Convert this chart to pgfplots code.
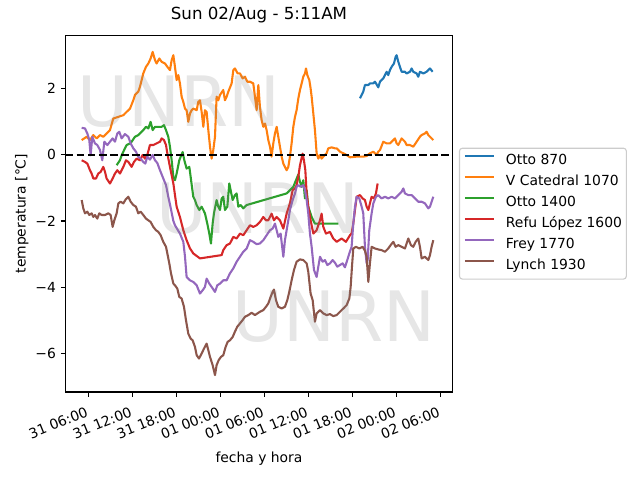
\documentclass[border=0pt]{standalone}
\usepackage{fontspec}
\setmainfont{DejaVu Sans}
\usepackage{pgfplots}
\pgfplotsset{compat=1.18}
\definecolor{c0}{HTML}{1F77B4}
\definecolor{c1}{HTML}{FF7F0E}
\definecolor{c2}{HTML}{2CA02C}
\definecolor{c3}{HTML}{D62728}
\definecolor{c4}{HTML}{9467BD}
\definecolor{c5}{HTML}{8C564B}
\begin{document}
\begin{tikzpicture}
\useasboundingbox (-47.30pt,-63.36pt) rectangle (413.50pt,282.24pt);
\begin{axis}[
  at={(0,0)}, anchor=south west,
  scale only axis, width=278.35pt, height=256.82pt,
  xmin=2.92, xmax=55.64, ymin=-7.16, ymax=3.60,
  axis line style={line width=0.8pt},
  tick align=outside, major tick length=3.5pt,
  every tick/.style={black, line width=0.8pt},
  tick pos=left,
  xtick={6,12,18,24,30,36,42,48,54},
  xticklabels={31 06:00,31 12:00,31 18:00,01 00:00,01 06:00,01 12:00,01 18:00,02 00:00,02 06:00},
  ytick={-6,-4,-2,0,2},
  yticklabels={−6,−4,−2,0,2},
  tick label style={font=\fontsize{10}{12}\selectfont},
  xticklabel style={inner sep=0pt, xshift=-2.2pt, yshift=-6.55pt, anchor=north east, rotate=22},
  yticklabel style={inner sep=0pt, xshift=-3.3pt, anchor=east},
  title={Sun 02/Aug - 5:11AM},
  title style={font=\fontsize{12}{14}\selectfont, at={(axis description cs:0.5,1.0213)}, anchor=base, inner sep=0pt},
  xlabel={fecha y hora},
  xlabel style={font=\fontsize{10}{12}\selectfont, at={(axis description cs:0.5,-0.1963)}, anchor=base, inner sep=0pt},
  ylabel={temperatura [°C]},
  ylabel style={font=\fontsize{10}{12}\selectfont, at={(axis description cs:-0.1035,0.5)}, anchor=base, inner sep=0pt},
  every axis plot/.append style={line width=1.5pt, line join=round},
  legend image code/.code={\path[draw=none,fill=none] (0pt,0pt) rectangle (20.9pt,5pt); \draw[#1] (0pt,3.6pt) -- (20.9pt,3.6pt);},
  legend cell align=left,
  legend style={at={(1,0.5)}, anchor=west, xshift=4.82pt, draw=black!20, line width=0.8pt, rounded corners=2pt, fill=white,
    inner xsep=3.1pt, inner ysep=4.1pt, row sep=5.2pt, font=\fontsize{10}{12}\selectfont,
    nodes={inner sep=0pt, text height=7.5pt, text depth=2.5pt},
    /tikz/every odd column/.append style={column sep=7.9pt}},
]
\addplot[c0] coordinates {(43.05,1.70)(43.28,1.80)(43.50,1.90)(43.73,2.10)(44.19,2.10)(44.41,2.15)(44.87,2.15)(45.10,2.20)(45.55,2.03)(45.78,2.20)(46.23,2.30)(46.46,2.40)(46.69,2.50)(46.91,2.40)(47.14,2.55)(47.37,2.65)(47.69,2.75)(47.91,2.95)(48.05,3.00)(48.28,2.80)(48.50,2.65)(48.73,2.50)(49.19,2.50)(49.41,2.45)(49.87,2.50)(50.10,2.60)(50.32,2.50)(50.78,2.45)(51.00,2.35)(51.23,2.50)(51.69,2.45)(52.14,2.50)(52.60,2.60)(52.96,2.50)};
\addlegendentry{Otto 870}
\addplot[c1] coordinates {(5.10,0.44)(5.78,0.54)(6.23,0.44)(6.69,0.59)(7.14,0.49)(7.60,0.59)(8.05,0.54)(8.50,0.64)(8.96,0.74)(9.41,1.09)(10.10,1.14)(10.78,1.19)(11.23,1.29)(11.69,1.39)(12.14,1.64)(12.37,1.80)(12.82,1.90)(13.05,2.05)(13.50,2.45)(13.87,2.65)(14.19,2.75)(14.50,2.90)(14.78,3.10)(15.10,2.85)(15.32,2.75)(15.69,2.90)(16.01,2.80)(16.46,2.75)(16.78,2.65)(17.14,2.55)(17.37,2.85)(17.60,3.00)(17.82,2.65)(18.05,2.25)(18.28,2.40)(18.50,2.15)(18.73,1.75)(18.96,1.59)(19.19,1.39)(19.41,1.34)(19.64,0.99)(19.87,1.24)(20.10,1.34)(20.32,1.39)(20.78,1.34)(21.00,1.59)(21.23,1.64)(21.46,1.29)(21.69,0.84)(21.91,1.34)(22.14,1.29)(22.37,0.74)(22.60,0.24)(22.82,-0.12)(23.05,0.14)(23.28,0.54)(23.50,1.75)(23.73,1.64)(23.96,1.80)(24.41,1.95)(24.64,1.64)(24.87,1.75)(25.10,1.90)(25.55,2.15)(25.78,2.55)(26.00,2.60)(26.37,2.45)(26.69,2.45)(27.05,2.30)(27.37,2.35)(27.69,2.20)(28.05,2.20)(28.50,2.15)(28.73,1.75)(28.96,1.34)(29.19,2.10)(29.41,1.44)(29.64,1.04)(29.87,0.84)(30.10,0.94)(30.32,0.74)(30.55,0.44)(30.78,0.24)(31.00,-0.06)(31.23,0.34)(31.46,0.64)(31.69,0.84)(31.91,0.54)(32.14,0.24)(32.37,-0.06)(32.60,-0.27)(33.05,-0.47)(33.28,-0.37)(33.50,-0.06)(33.73,0.34)(33.96,0.84)(34.19,1.14)(34.41,1.34)(34.64,1.69)(34.87,1.95)(35.10,2.15)(35.32,2.35)(35.55,2.45)(35.69,2.60)(35.87,2.40)(36.14,2.25)(36.32,2.00)(36.46,1.75)(36.69,1.24)(36.91,0.74)(37.14,0.04)(37.37,-0.12)(37.60,-0.01)(37.82,-0.12)(38.05,-0.06)(38.50,0.04)(38.73,0.19)(39.19,0.22)(39.64,0.19)(39.87,0.19)(40.32,0.09)(40.78,0.04)(41.23,-0.01)(41.69,-0.08)(42.60,-0.06)(43.50,-0.06)(43.96,-0.04)(44.41,0.04)(44.87,0.09)(45.32,-0.01)(45.55,0.09)(45.78,0.14)(46.23,0.39)(46.69,0.34)(47.14,0.34)(47.60,0.44)(47.82,0.49)(48.05,0.34)(48.28,0.29)(48.73,0.49)(49.19,0.39)(49.41,0.29)(49.87,0.29)(50.32,0.24)(50.78,0.39)(51.23,0.54)(51.46,0.59)(51.91,0.64)(52.14,0.69)(52.37,0.59)(52.60,0.54)(53.05,0.44)};
\addlegendentry{V Catedral 1070}
\addplot[c2] coordinates {(9.87,-0.32)(10.32,-0.17)(10.55,-0.02)(11.00,0.19)(11.23,0.29)(11.69,0.34)(11.91,0.39)(12.37,0.54)(12.82,0.59)(13.05,0.64)(13.50,0.74)(13.87,0.84)(14.19,0.79)(14.50,0.99)(14.78,0.74)(15.10,0.84)(15.55,0.84)(16.01,0.84)(16.32,0.89)(16.60,0.74)(16.91,0.54)(17.14,0.24)(17.37,-0.17)(17.60,-0.67)(17.82,-0.77)(18.05,-0.57)(18.41,-0.17)(18.87,0.08)(19.10,-0.17)(19.41,-0.42)(19.78,-0.37)(19.96,-0.67)(20.32,-1.27)(20.55,-1.37)(20.78,-1.52)(21.14,-1.67)(21.46,-1.57)(21.91,-1.77)(22.23,-2.08)(22.50,-2.38)(22.73,-2.68)(22.96,-2.08)(23.14,-1.77)(23.50,-1.37)(23.73,-1.57)(23.96,-1.67)(24.19,-1.32)(24.41,-1.27)(24.64,-1.67)(24.96,-1.57)(25.23,-0.87)(25.41,-1.07)(25.69,-1.37)(26.00,-1.22)(26.23,-1.17)(26.46,-1.57)(26.78,-1.52)(27.14,-1.62)(27.60,-1.52)(33.05,-1.17)(33.96,-0.97)(34.64,-0.60)(34.87,-0.82)(35.10,-0.97)(35.32,-0.77)(35.55,-1.32)(35.78,-1.07)(36.00,-1.57)(36.46,-1.88)(36.91,-2.08)(40.10,-2.08)};
\addlegendentry{Otto 1400}
\addplot[c3] coordinates {(5.10,-0.17)(5.55,-0.22)(5.87,-0.27)(6.23,-0.47)(6.46,-0.57)(6.69,-0.72)(7.05,-0.72)(7.37,-0.57)(7.69,-0.52)(8.05,-0.37)(8.28,-0.52)(8.50,-0.72)(8.96,-0.87)(9.32,-0.72)(9.64,-0.57)(9.96,-0.47)(10.32,-0.57)(10.78,-0.37)(11.14,-0.17)(11.46,-0.22)(11.91,-0.37)(12.23,-0.22)(12.60,-0.12)(13.05,-0.17)(13.41,-0.01)(13.73,-0.12)(14.05,-0.01)(14.41,0.29)(14.87,0.29)(15.32,0.34)(15.78,0.39)(16.01,0.49)(16.32,0.44)(16.60,0.29)(16.78,0.04)(17.14,-0.37)(17.60,-0.87)(18.05,-1.57)(18.50,-1.88)(18.96,-2.28)(19.41,-2.58)(19.87,-2.83)(20.32,-2.98)(21.23,-3.13)(24.19,-3.03)(24.41,-2.88)(24.87,-2.73)(25.32,-2.68)(25.78,-2.48)(26.23,-2.53)(26.69,-2.38)(27.14,-2.43)(27.60,-2.28)(28.05,-2.13)(28.50,-2.18)(28.96,-2.13)(29.41,-2.03)(29.87,-1.88)(30.23,-1.98)(30.55,-1.98)(31.00,-1.78)(31.32,-1.98)(31.69,-1.88)(32.14,-1.98)(32.60,-2.23)(33.05,-1.78)(33.50,-1.47)(33.87,-1.07)(34.19,-1.02)(34.41,-0.92)(34.64,-0.67)(34.87,-0.32)(35.23,0.03)(35.41,-0.17)(35.60,-0.47)(35.78,-1.17)(36.00,-1.57)(36.32,-1.98)(36.69,-2.38)(37.14,-2.28)(37.60,-1.98)(37.82,-1.78)(38.05,-2.18)(38.41,-2.38)(38.96,-2.33)(39.41,-2.53)(39.87,-2.63)(40.55,-2.53)(41.14,-2.63)(41.69,-2.43)(41.91,-2.38)(42.14,-2.08)(42.37,-1.67)(42.60,-1.27)(43.05,-1.22)(43.41,-1.32)(43.73,-1.37)(43.96,-1.57)(44.19,-1.67)(44.41,-1.47)(44.64,-1.27)(44.96,-1.32)(45.23,-1.17)(45.46,-0.87)};
\addlegendentry{Refu López 1600}
\addplot[c4] coordinates {(5.10,0.81)(5.55,0.79)(5.87,0.64)(6.14,0.44)(6.32,-0.02)(6.55,0.54)(6.91,0.34)(7.23,0.29)(7.60,0.14)(7.91,-0.17)(8.19,0.39)(8.60,0.29)(8.96,0.39)(9.32,0.49)(9.64,0.39)(9.96,0.64)(10.23,0.69)(10.55,0.49)(11.00,0.62)(11.46,0.54)(11.78,0.34)(12.14,0.19)(12.50,0.09)(12.82,-0.06)(13.14,-0.12)(13.50,-0.22)(13.78,-0.27)(14.05,-0.06)(14.41,-0.15)(14.78,-0.01)(15.10,-0.17)(15.41,-0.25)(15.78,-0.47)(16.23,-0.72)(16.60,-0.92)(16.91,-1.27)(17.14,-1.50)(17.60,-2.00)(17.82,-2.13)(18.50,-2.38)(18.96,-2.63)(19.19,-3.08)(19.41,-3.69)(19.87,-3.79)(20.32,-3.84)(20.78,-3.94)(21.23,-4.19)(21.60,-4.09)(21.91,-3.99)(22.14,-3.74)(22.50,-3.89)(22.82,-3.99)(23.28,-4.14)(23.60,-3.94)(23.96,-3.89)(24.41,-3.79)(24.87,-3.79)(25.32,-3.58)(25.78,-3.43)(26.23,-3.23)(26.69,-3.08)(27.14,-2.93)(27.60,-2.83)(28.05,-2.58)(28.50,-2.63)(28.96,-2.70)(29.41,-2.68)(29.87,-2.58)(30.32,-2.43)(30.78,-2.28)(31.14,-2.23)(31.46,-2.08)(31.69,-2.28)(31.91,-2.48)(32.23,-2.38)(32.60,-3.08)(32.82,-2.58)(33.05,-2.28)(33.28,-1.98)(33.50,-1.67)(33.87,-1.37)(34.19,-1.17)(34.41,-0.97)(34.64,-0.92)(34.96,-0.97)(35.32,-0.92)(35.55,-1.07)(35.78,-1.37)(36.00,-1.77)(36.23,-2.38)(36.46,-2.78)(36.78,-3.48)(37.14,-3.69)(37.37,-3.38)(37.60,-3.08)(37.96,-3.23)(38.28,-3.18)(38.60,-3.33)(38.96,-3.28)(39.32,-3.18)(39.64,-3.26)(39.96,-3.38)(40.32,-3.33)(40.69,-3.28)(41.00,-3.40)(41.32,-3.18)(41.60,-2.98)(41.91,-2.78)(42.14,-2.08)(42.37,-1.57)(42.60,-1.27)(42.96,-1.32)(43.28,-1.57)(43.50,-1.77)(43.73,-2.78)(43.96,-3.28)(44.10,-3.18)(44.32,-2.28)(44.64,-1.77)(44.87,-1.47)(45.23,-1.27)(45.55,-1.22)(46.00,-1.32)(46.46,-1.27)(46.91,-1.32)(47.37,-1.27)(47.82,-1.32)(48.28,-1.22)(48.73,-1.12)(48.96,-1.02)(49.19,-1.17)(49.64,-1.22)(50.10,-1.22)(50.55,-1.32)(51.00,-1.42)(51.46,-1.42)(51.91,-1.47)(52.37,-1.62)(52.60,-1.57)(52.82,-1.42)(53.05,-1.27)};
\addlegendentry{Frey 1770}
\addplot[c5] coordinates {(5.10,-1.37)(5.32,-1.62)(5.55,-1.77)(5.87,-1.72)(6.14,-1.82)(6.46,-1.77)(6.69,-1.88)(6.91,-1.82)(7.23,-1.93)(7.50,-1.77)(7.82,-1.82)(8.28,-1.82)(8.73,-1.77)(9.05,-1.82)(9.32,-2.18)(9.55,-1.98)(9.87,-1.77)(10.10,-1.47)(10.41,-1.42)(10.78,-1.47)(11.10,-1.35)(11.46,-1.27)(11.78,-1.42)(12.14,-1.52)(12.50,-1.57)(12.82,-1.77)(13.14,-1.72)(13.50,-1.82)(13.87,-1.93)(14.19,-1.98)(14.50,-2.03)(14.87,-2.18)(15.23,-2.28)(15.55,-2.33)(15.87,-2.43)(16.23,-2.63)(16.60,-2.78)(16.78,-2.98)(17.05,-3.28)(17.28,-3.58)(17.60,-3.89)(17.82,-3.94)(18.14,-4.04)(18.41,-4.29)(18.73,-4.34)(19.05,-4.59)(19.32,-4.99)(19.64,-5.40)(19.96,-5.55)(20.23,-5.60)(20.55,-5.80)(20.78,-6.05)(21.10,-6.15)(21.46,-6.00)(21.78,-5.85)(22.14,-5.70)(22.37,-5.90)(22.60,-6.10)(22.96,-6.35)(23.28,-6.65)(23.50,-6.35)(23.78,-6.20)(24.10,-6.10)(24.41,-6.05)(24.73,-5.80)(25.00,-5.65)(25.32,-5.60)(25.69,-5.50)(26.00,-5.34)(26.32,-5.19)(26.69,-5.09)(27.05,-4.99)(27.37,-4.89)(27.82,-4.84)(28.28,-4.77)(28.73,-4.84)(29.41,-4.74)(29.87,-4.69)(30.23,-4.59)(30.55,-4.49)(30.87,-4.29)(31.14,-4.14)(31.32,-4.07)(31.60,-4.39)(31.91,-4.59)(32.37,-4.64)(32.82,-4.59)(33.14,-4.39)(33.41,-4.14)(33.73,-3.79)(34.05,-3.48)(34.41,-3.23)(34.87,-3.16)(35.32,-3.18)(35.78,-3.28)(36.00,-3.53)(36.32,-4.19)(36.60,-4.39)(36.91,-5.04)(37.14,-4.79)(37.60,-4.69)(38.05,-4.79)(38.50,-4.84)(38.96,-4.81)(39.41,-4.87)(39.87,-4.84)(40.32,-4.74)(40.78,-4.64)(41.23,-4.54)(41.60,-4.34)(41.78,-3.99)(41.96,-3.38)(42.14,-2.83)(42.50,-2.78)(42.96,-2.83)(43.41,-2.78)(43.73,-2.90)(43.96,-3.08)(44.19,-3.84)(44.41,-3.28)(44.64,-2.78)(45.10,-2.83)(45.55,-2.86)(46.00,-2.88)(46.46,-2.93)(46.91,-2.83)(47.23,-2.73)(47.60,-2.63)(47.91,-2.78)(48.28,-2.73)(48.73,-2.78)(49.19,-2.83)(49.64,-2.53)(50.00,-2.73)(50.32,-2.78)(50.64,-2.63)(51.00,-2.53)(51.23,-2.78)(51.46,-3.13)(51.91,-3.08)(52.37,-3.18)(52.60,-3.03)(52.82,-2.78)(53.05,-2.58)};
\addlegendentry{Lynch 1930}
\addplot[black, dash pattern=on 5.55pt off 2.4pt, forget plot] coordinates {(2.92,0)(55.64,0)};
\node[anchor=base west, inner sep=0pt, font=\fontsize{50}{60}\selectfont, text=gray, text opacity=0.2] at (axis description cs:0.0305,0.744) {UNRN};
\node[anchor=base west, inner sep=0pt, font=\fontsize{50}{60}\selectfont, text=gray, text opacity=0.2] at (axis description cs:0.233,0.445) {UNRN};
\node[anchor=base west, inner sep=0pt, font=\fontsize{50}{60}\selectfont, text=gray, text opacity=0.2] at (axis description cs:0.431,0.141) {UNRN};
\end{axis}
\end{tikzpicture}
\end{document}
